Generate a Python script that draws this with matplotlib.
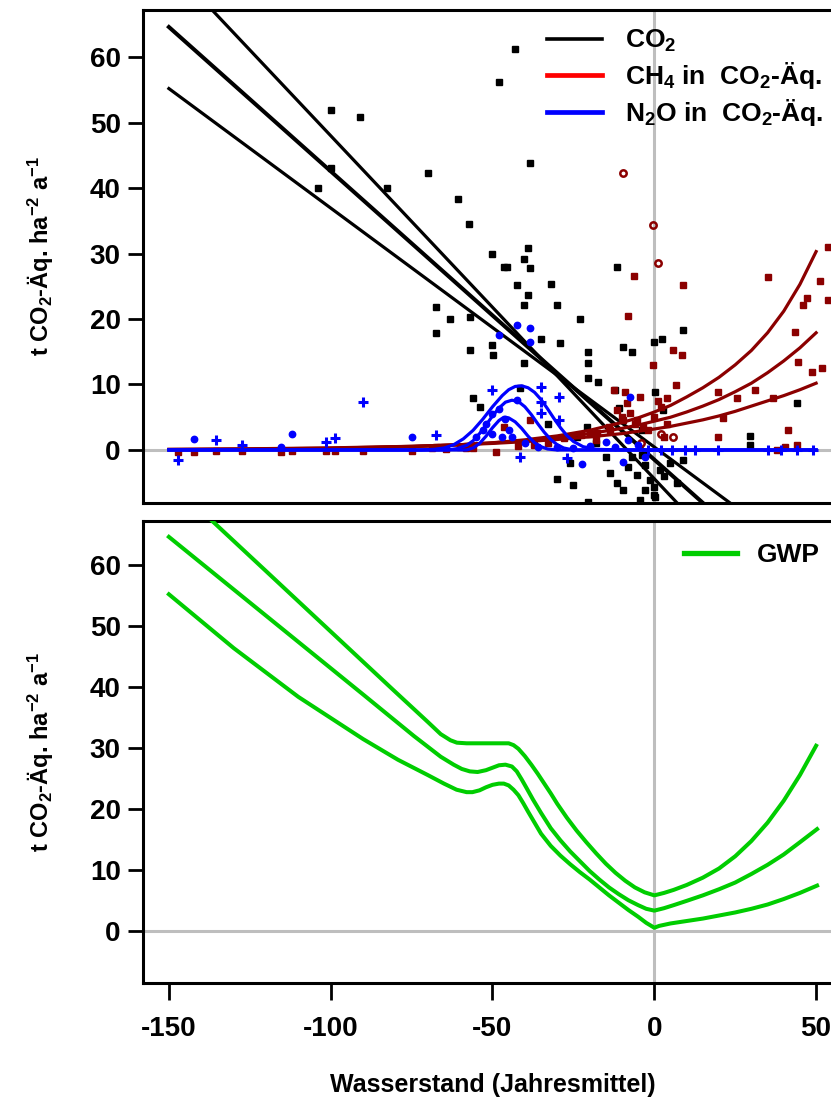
import matplotlib
matplotlib.use('Agg')
import matplotlib.pyplot as plt
from matplotlib.lines import Line2D

plt.rcParams['font.family'] = ['Liberation Sans', 'DejaVu Sans']
plt.rcParams['font.weight'] = 'bold'
plt.rcParams['axes.labelweight'] = 'bold'
plt.rcParams['axes.unicode_minus'] = False
plt.rcParams['mathtext.fontset'] = 'custom'
plt.rcParams['mathtext.rm'] = 'Liberation Sans:bold'
plt.rcParams['mathtext.it'] = 'Liberation Sans:bold'
plt.rcParams['mathtext.bf'] = 'Liberation Sans:bold'
plt.rcParams['mathtext.default'] = 'rm'

# ---------------- data ----------------
xticks = [-150, -100, -50, 0, 50]
yticks = [0, 10, 20, 30, 40, 50, 60]

# CO2 regression lines (three variants)
co2_x = [-150, 50]
co2_hi = [74.2, -30.6]
co2_mid = [64.6, -23.5]
co2_lo = [55.2, -17.8]

# CH4 curves (CO2-eq.)
ch4_x = [-150, -125, -100, -75, -60, -50, -40, -30, -20, -10, -5, 0, 5, 10, 15, 20, 25, 30, 35, 40, 45, 50]
ch4_hi = [0.04, 0.09, 0.21, 0.5, 0.8, 1.1, 1.55, 2.15, 3.0, 4.2, 4.9, 5.8, 6.8, 8.1, 9.5, 11.1, 13.0, 15.2,
          17.9, 21.2, 25.3, 30.3]
ch4_mid = [0.07, 0.14, 0.27, 0.55, 0.8, 1.08, 1.43, 1.9, 2.5, 3.3, 3.8, 4.4, 5.0, 5.8, 6.7, 7.7, 8.9, 10.2,
           11.8, 13.6, 15.6, 17.9]
ch4_lo = [0.1, 0.18, 0.32, 0.56, 0.8, 1.0, 1.27, 1.6, 2.0, 2.5, 2.85, 3.2, 3.6, 4.1, 4.6, 5.2, 5.9, 6.7,
          7.5, 8.3, 9.2, 10.2]

# N2O curves (CO2-eq.)
n2o_hi_x = [-150, -72, -68, -65, -62, -59, -56, -53, -50, -47, -45, -43, -41, -39, -37, -35, -33, -31,
            -29, -27, -25, -22, -18, -10, 50]
n2o_hi = [0, 0, 0.1, 0.3, 0.8, 1.7, 3.0, 4.7, 6.6, 8.3, 9.2, 9.7, 9.8, 9.5, 8.8, 7.7, 6.3, 4.8,
          3.4, 2.2, 1.3, 0.5, 0.1, 0, 0]
n2o_mid_x = [-150, -64, -61, -58, -56, -54, -52, -50, -48, -46, -44, -42, -40, -38, -36, -34, -32, -30,
             -28, -25, 50]
n2o_mid = [0, 0, 0.2, 0.7, 1.4, 2.5, 3.8, 5.2, 6.4, 7.3, 7.6, 7.4, 6.6, 5.4, 4.0, 2.7, 1.6, 0.8,
           0.3, 0, 0]
n2o_lo_x = [-150, -58, -56, -54, -52, -50, -48, -46.5, -45, -43, -41, -39, -37, -35, -33, -30, 50]
n2o_lo = [0, 0, 0.3, 1.0, 2.1, 3.4, 4.5, 5.0, 4.9, 4.3, 3.3, 2.1, 1.1, 0.5, 0.15, 0, 0]

# observations
co2_pts_x = [-100, -91, -104, -100, -82.5, -69.8, -60.8, -42.9, -48, -38.3, -57.4, -50, -38.9, -46.6,
             -45.4, -40.4, -38.3, -42.3, -32, -11.4, -38.9, -40.4, -30.2, -67.6, -63, -56.8, -23, -67.6,
             9, -57, -50, 0, 2.5, -20.4, -9.6, -6.8, -29, -20.4, -56, -54, 44, 29.6, 29.6, -30, -25,
             -49.7, -35, -40.4, -41.4, -20.4, -17.3, -12, -11, -20.7, -26, -13.6, -11.4, -9.6, -8,
             -5.2, -4.3, -20.4, 0.3, 2.8, 9, 0, 0, -3.7, -3.7, -2.8, -1.2, 0.3, 1.9, -2.8, 5, 3, 7,
             -7, -15, -18, -24, -33]
co2_pts_y = [51.9, 50.9, 40, 43, 40, 42.3, 38.3, 61.2, 56.2, 43.8, 34.5, 30, 30.8, 28,
             28, 29.1, 27.8, 25.2, 25.3, 28, 23.7, 22.1, 22.1, 21.8, 20, 20.3, 20, 17.8,
             18.3, 15.3, 16, 16.5, 17, 15, 15.7, 15, 16.3, 13.3, 7.9, 6.6, 7.2, 2.1, 0.8, -4.4, -5.3,
             14.5, 17, 13.3, 9.5, 11, 10.4, 9.2, 6.4, 3.5, -2, -3.5, -5, -6.1, -2.6,
             -3.8, -7.6, -7.9, 8.9, 6.1, -1.5, -5.6, -6.9, 3, -0.8, -2.3, -4.6, -7.2, -3.1, -6.1, -2, -4, -5,
             -1, -1, 1, 2, 4]

ch4_pts_x = [-6.2, -8, 9, 35.2, 53.7, 51.2, 47.2, 46, 53.7, 43.5, 44.5, 48.8, 51.9, 31, 25.6, 19.8,
             21.3, 5.9, 8.6, -0.3, 6.8, 41.4, 19.8, 38, 40.4, 44.1, 36.7,
             -12.6, -9, -4.3, -46.6, -38.3, -56, -49, -42, -37.3, -33, -28, -22.8, -17.6, -13.6,
             -9.6, -7.4, -5.2, -3.4, -11.4, -8.3, -10, -6, -2, 0, 2, 3, -14, -18, -20, 1, 4, 4,
             -147.2, -142.3, -135.5, -127.5, -115.4, -112, -101.5, -98.8, -90, -75, -68.8, -67.6,
             -64.5, -60, -58.3]
ch4_pts_y = [26.6, 20.5, 25.2, 26.4, 31, 25.8, 23.2, 22.1, 22.9, 18, 13.4, 11.9, 12.5, 9.2, 7.9, 8.9,
             4.9, 15.3, 14.5, 13, 9.9, 3, 2, 0, 0.5, 0.8, 7.9,
             9.2, 8.9, 8.1, 3.5, 4.6, 0.3, -0.3, 0.6, 0.8, 1.1, 1.8, 2.3, 2.6, 3.1,
             4.6, 5.6, 4.6, 3.5, 6.1, 7.2, 5, 4, 3, 5, 6.5, 2, 3.5, 1.5, 2.5, 7.5, 8, 4,
             -0.3, -0.3, -0.2, -0.2, -0.3, -0.1, -0.2, -0.2, -0.2, -0.2, 0.3, 0.4,
             0.2, 0.5, 0.3]
ch4_open_x = [-9.6, -0.3, 1, 5.9, 2, -4]
ch4_open_y = [42.3, 34.3, 28.5, 2, 2.5, 1]

n2o_plus_x = [-147.2, -135.5, -127.5, -101.5, -98.8, -90, -67.6, -50, -35, -35, -29.6, -29.6, -35,
              -27, -41.4, -2, 2, 5.6, 9.5, 12.7, 19.8, 35, 39, 44, 49]
n2o_plus_y = [-1.5, 1.5, 0.8, 1.2, 1.9, 7.3, 2.3, 9.2, 9.6, 7.3, 8.1, 4.6, 5.6,
              -1.2, -1.1, 0, 0, 0, 0, 0, 0, 0, 0, 0, 0]
n2o_dot_x = [-142.3, -115.4, -112, -75, -42.3, -22.2, -7.4, -9.6, -42.3, -38.3, -38.3, -48,
             -52, -50, -48, -46, -45, -44, -50, -47, -55, -53, -40, -36, -30, -20, -15, -12, -8,
             -5, -3, -25]
n2o_dot_y = [1.7, 0.5, 2.4, 2, 7.6, -2.1, 8.1, -1.8, 19.1, 18.6, 16.5, 17.5,
             4, 5.5, 6.3, 4.8, 3, 2, 2.5, 2, 2, 3, 1, 0.5, 0.5, 0.6, 1.2, 0.5, 1.5,
             0.8, -1, 0.3]

# GWP curves
gwp_hi_x = [-150, -136.6, -120, -100, -80.8, -70, -66, -63, -61, -58, -54, -50, -47, -45, -43.5, -42,
            -40, -38, -36, -34, -32, -30, -27, -24, -21, -18, -15, -12, -9, -6, -3, 0, 3, 6, 10, 15,
            20, 25, 30, 35, 40, 45, 50]
gwp_hi = [73.8, 67.2, 59.0, 49.1, 39.6, 34.3, 32.3, 31.3, 30.9, 30.8, 30.8, 30.8, 30.8, 30.8, 30.5,
          29.9, 28.7, 27.3, 25.8, 24.2, 22.6, 20.9, 18.6, 16.5, 14.6, 12.8, 11.1, 9.6, 8.3, 7.2, 6.4,
          5.9, 6.3, 6.8, 7.6, 8.8, 10.3, 12.3, 14.8, 17.8, 21.4, 25.6, 30.4]
gwp_mid_x = [-150, -130, -110, -90, -74.3, -66, -62, -59.5, -57, -54.6, -52, -50, -48, -46, -44, -42.5,
             -41, -39.5, -37.5, -35, -32, -29, -26, -23, -20, -17, -14, -11, -8, -5, -2.5, 0, 3, 6, 10,
             15, 20, 25, 30, 35, 40, 45, 50.3]
gwp_mid = [64.6, 56.0, 47.4, 38.8, 32.0, 28.6, 27.3, 26.6, 26.2, 26.1, 26.4, 26.8, 27.2, 27.3, 27.0,
           26.2, 24.9, 23.5, 21.6, 19.4, 16.9, 14.9, 13.1, 11.5, 9.9, 8.5, 7.2, 6.1, 5.1, 4.3, 3.7,
           3.4, 3.8, 4.3, 5.0, 5.9, 6.9, 8.0, 9.4, 10.9, 12.6, 14.6, 16.75]
gwp_lo_x = [-150, -130, -110, -90, -79.2, -70, -65, -61.1, -58, -56.2, -54, -52, -50, -48, -46.5, -45,
            -43.5, -42, -40.5, -39, -37, -35, -32, -29, -26, -23, -20, -17, -14, -11, -8, -5, -2.5, 0,
            1.5, 5, 10, 15, 20, 25, 30, 35, 40, 45, 50.3]
gwp_lo = [55.2, 46.4, 38.4, 31.5, 28.1, 25.6, 24.2, 23.2, 22.8, 22.8, 23.1, 23.6, 24.0, 24.2, 24.2,
          23.9, 23.2, 22.3, 21.0, 19.6, 17.8, 16.0, 14.0, 12.4, 11.0, 9.7, 8.5, 7.2, 5.9, 4.7, 3.5,
          2.4, 1.4, 0.6, 0.9, 1.3, 1.7, 2.1, 2.6, 3.1, 3.7, 4.4, 5.3, 6.3, 7.5]

# ---------------- figure ----------------
W, H = 831, 1099
fig = plt.figure(figsize=(W / 100, H / 100), dpi=100)

def frac(l, t, r, b):
    return [l / W, 1 - b / H, (r - l) / W, (b - t) / H]

ax1 = fig.add_axes(frac(143, 10, 842, 503))
ax2 = fig.add_axes(frac(143, 521, 842, 983))

GREY = '#BEBEBE'
DRED = '#8B0000'
GREEN = '#00CD00'
XLIM = (-158, 58)
YLABEL = 't CO$_2$-Äq. ha$^{-2}$ a$^{-1}$'

for ax in (ax1, ax2):
    ax.set_xlim(*XLIM)
    ax.axhline(0, color=GREY, lw=2.2, zorder=1)
    ax.axvline(0, color=GREY, lw=2.2, zorder=1)
    for s in ax.spines.values():
        s.set_linewidth(2.2)
    ax.set_yticks(yticks)
    ax.tick_params(axis='y', length=11, width=2, labelsize=20, pad=5)
    ax.set_ylabel(YLABEL, fontsize=17, labelpad=24)

ax1.set_ylim(-8.1, 67.2)
ax2.set_ylim(-8.45, 67.2)
ax1.set_xticks([])
ax2.set_xticks(xticks)
ax2.tick_params(axis='x', length=12, width=2, labelsize=20, pad=12)
ax2.set_xlabel('Wasserstand (Jahresmittel)', fontsize=18, labelpad=22)

# top panel points and lines
ax1.plot(co2_pts_x, co2_pts_y, ls='none', marker='s', ms=4.4, color='black', zorder=3)
for yy, lw in ((co2_hi, 2.3), (co2_mid, 2.9), (co2_lo, 2.3)):
    ax1.plot(co2_x, yy, color='black', lw=lw, zorder=4)
ax1.plot(ch4_pts_x, ch4_pts_y, ls='none', marker='s', ms=4.4, color=DRED, zorder=5)
ax1.plot(ch4_open_x, ch4_open_y, ls='none', marker='o', ms=4.6, mfc='none', mec=DRED, mew=1.8, zorder=5)
for yy in (ch4_hi, ch4_mid, ch4_lo):
    ax1.plot(ch4_x, yy, color=DRED, lw=2.3, zorder=6)
ax1.plot(n2o_plus_x, n2o_plus_y, ls='none', marker='+', ms=7.5, mew=2.2, color='blue', zorder=7)
ax1.plot(n2o_dot_x, n2o_dot_y, ls='none', marker='o', ms=4.6, color='blue', zorder=7)
for xx, yy in ((n2o_hi_x, n2o_hi), (n2o_mid_x, n2o_mid), (n2o_lo_x, n2o_lo)):
    ax1.plot(xx, yy, color='blue', lw=2.3, zorder=8)

handles = [Line2D([], [], color='black', lw=2.6),
           Line2D([], [], color='red', lw=3.4),
           Line2D([], [], color='blue', lw=3.4)]
labels = ['CO$_2$', 'CH$_4$ in  CO$_2$-Äq.', 'N$_2$O in  CO$_2$-Äq.']
ax1.legend(handles, labels, loc='upper left', bbox_to_anchor=(547 / W, 1 - 28 / H),
           bbox_transform=fig.transFigure, frameon=False, fontsize=19, handlelength=2.1,
           handletextpad=0.85, labelspacing=0.22, borderpad=0, borderaxespad=0)

# bottom panel GWP
for xx, yy in ((gwp_hi_x, gwp_hi), (gwp_mid_x, gwp_mid), (gwp_lo_x, gwp_lo)):
    ax2.plot(xx, yy, color=GREEN, lw=2.9, zorder=4)
ax2.legend([Line2D([], [], color=GREEN, lw=3.8)], ['GWP'], loc='upper left',
           bbox_to_anchor=(684 / W, 1 - 543 / H), bbox_transform=fig.transFigure,
           frameon=False, fontsize=19, handlelength=2.0, handletextpad=0.75,
           borderpad=0, borderaxespad=0)

fig.savefig('out.png', dpi=100)
